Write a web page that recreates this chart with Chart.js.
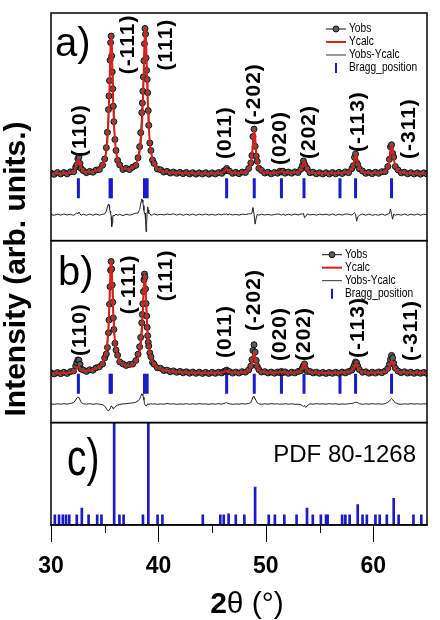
<!DOCTYPE html>
<html>
<head>
<meta charset="utf-8">
<script src="https://cdn.jsdelivr.net/npm/chart.js@4.4.0/dist/chart.umd.min.js"></script>
<style>
  html, body { margin: 0; padding: 0; background: #fff; }
  #wrap { width: 440px; height: 620px; }
</style>
</head>
<body>
<div id="wrap"><canvas id="xrd" width="440" height="620"></canvas></div>
<script>
//2theta grid shared by the refinements (a) and (b)
const twoTheta = [
  30.0, 30.3, 30.6, 30.9, 31.2, 31.5, 31.8, 32.1, 32.3, 32.4,
  32.5, 32.6, 32.7, 32.8, 33.0, 33.3, 33.6, 33.9, 34.2, 34.5,
  34.8, 35.0, 35.15, 35.25, 35.35, 35.4, 35.45, 35.5, 35.55, 35.6,
  35.65, 35.7, 35.75, 35.8, 35.85, 35.95, 36.05, 36.2, 36.4, 36.7,
  37.0, 37.3, 37.6, 37.9, 38.1, 38.25, 38.35, 38.45, 38.5, 38.55,
  38.6, 38.65, 38.7, 38.75, 38.8, 38.85, 38.9, 38.95, 39.0, 39.05,
  39.1, 39.2, 39.3, 39.45, 39.6, 39.9, 40.2, 40.5, 40.8, 41.1,
  41.4, 41.7, 42.0, 42.3, 42.6, 42.9, 43.2, 43.5, 43.8, 44.1,
  44.4, 44.7, 45.0, 45.3, 45.6, 45.9, 46.1, 46.25, 46.35, 46.45,
  46.6, 46.9, 47.2, 47.5, 47.8, 48.1, 48.4, 48.6, 48.7, 48.8,
  48.9, 49.0, 49.1, 49.2, 49.35, 49.6, 49.9, 50.2, 50.5, 50.8,
  51.1, 51.3, 51.45, 51.6, 51.8, 52.1, 52.4, 52.7, 53.0, 53.25,
  53.4, 53.5, 53.6, 53.7, 53.85, 54.1, 54.4, 54.7, 55.0, 55.3,
  55.6, 55.9, 56.2, 56.5, 56.8, 57.1, 57.4, 57.7, 58.0, 58.15,
  58.25, 58.35, 58.45, 58.55, 58.7, 59.0, 59.3, 59.6, 59.9, 60.2,
  60.5, 60.8, 61.1, 61.35, 61.5, 61.6, 61.7, 61.8, 61.9, 62.05,
  62.3, 62.6, 62.9, 63.2, 63.5, 63.8, 64.1, 64.4, 64.7, 65.0
];
//panel a) observed / calculated / difference (difference already shifted down)
const obsA = [
  10.6, 9.8, 10.9, 10.0, 10.9, 10.1, 11.3, 11.4, 14.2, 15.6,
  19.3, 20.4, 16.5, 13.4, 12.1, 10.8, 11.6, 11.1, 12.4, 12.7,
  15.4, 19.2, 26.2, 35.6, 49.6, 58.0, 67.4, 80.0, 90.8, 94.8,
  82.6, 72.8, 62.4, 51.7, 42.2, 31.2, 24.5, 18.4, 15.6, 12.8,
  13.5, 12.7, 14.2, 15.3, 20.0, 26.8, 35.4, 47.7, 53.7, 60.9,
  69.7, 79.6, 90.1, 99.5, 96.0, 81.4, 73.7, 68.2, 60.0, 49.0,
  39.9, 29.1, 24.4, 18.6, 16.5, 13.1, 12.6, 11.2, 11.6, 10.6,
  11.2, 10.4, 11.0, 10.2, 10.9, 10.0, 10.8, 9.9, 10.7, 10.0,
  10.8, 9.9, 10.7, 10.0, 10.9, 10.4, 11.9, 12.0, 13.4, 12.1,
  11.8, 10.4, 11.0, 10.2, 11.2, 10.9, 13.4, 16.8, 21.4, 33.0,
  37.6, 27.0, 21.0, 17.8, 13.5, 12.2, 10.6, 11.1, 10.1, 10.9,
  10.5, 11.7, 11.2, 11.7, 10.5, 11.2, 10.5, 11.3, 10.9, 12.9,
  15.2, 18.0, 16.0, 14.4, 13.3, 10.8, 11.1, 10.1, 10.8, 10.0,
  10.8, 10.0, 10.9, 10.1, 11.0, 10.3, 11.3, 10.8, 13.3, 15.1,
  20.2, 22.3, 17.0, 15.8, 13.3, 11.8, 10.4, 11.0, 10.2, 11.1,
  10.4, 11.4, 11.5, 14.6, 19.0, 26.7, 28.0, 22.7, 20.4, 14.6,
  12.5, 10.7, 11.1, 10.1, 10.8, 10.0, 10.7, 9.9, 10.7, 10.0
];
const calcA = [
  10.2, 10.2, 10.3, 10.3, 10.4, 10.5, 10.8, 11.6, 13.7, 16.0,
  18.8, 18.8, 16.0, 13.8, 11.8, 11.2, 11.2, 11.5, 12.0, 13.0,
  15.2, 18.7, 24.0, 31.0, 43.0, 52.0, 64.0, 78.0, 90.0, 96.0,
  90.0, 78.0, 64.0, 52.0, 43.0, 31.0, 24.2, 18.8, 15.4, 13.4,
  13.0, 13.1, 13.8, 15.7, 19.0, 23.6, 29.0, 38.0, 44.7, 53.3,
  64.2, 76.9, 89.7, 98.6, 99.5, 91.9, 79.5, 66.6, 55.2, 46.1,
  39.1, 29.6, 23.9, 19.0, 16.1, 13.4, 12.2, 11.6, 11.2, 10.9,
  10.8, 10.7, 10.6, 10.5, 10.5, 10.4, 10.4, 10.3, 10.3, 10.3,
  10.3, 10.3, 10.3, 10.4, 10.5, 10.8, 11.5, 12.4, 13.0, 12.5,
  11.4, 10.8, 10.6, 10.6, 10.8, 11.3, 12.9, 16.3, 20.5, 28.6,
  37.4, 32.8, 23.2, 17.6, 13.9, 11.8, 11.0, 10.7, 10.5, 10.6,
  10.9, 11.3, 11.6, 11.3, 10.9, 10.8, 10.9, 10.9, 11.3, 12.5,
  14.8, 17.2, 17.9, 15.7, 12.9, 11.2, 10.7, 10.5, 10.4, 10.4,
  10.4, 10.4, 10.5, 10.5, 10.6, 10.7, 10.9, 11.2, 12.9, 15.5,
  18.9, 22.0, 21.0, 17.3, 13.7, 11.4, 10.8, 10.6, 10.6, 10.7,
  10.8, 11.0, 11.9, 14.2, 18.3, 23.3, 27.8, 25.5, 20.0, 15.0,
  12.1, 11.1, 10.7, 10.5, 10.4, 10.4, 10.3, 10.3, 10.3, 10.3
];
const diffA = [
  -15.0, -15.4, -14.7, -15.3, -14.6, -15.2, -14.8, -15.4, -14.5, -13.8,
  -14.5, -13.4, -14.5, -15.4, -14.7, -15.4, -14.6, -15.4, -14.6, -15.3,
  -14.8, -14.5, -12.8, -10.4, -8.4, -9.0, -11.6, -13.0, -14.2, -16.2,
  -22.4, -20.2, -16.6, -15.3, -15.8, -15.2, -14.7, -15.4, -14.8, -15.6,
  -14.7, -15.3, -14.8, -14.1, -14.0, -11.8, -8.6, -5.3, -6.0, -7.4,
  -9.5, -12.3, -14.6, -14.1, -18.5, -25.5, -20.8, -13.4, -10.2, -12.1,
  -14.2, -14.4, -15.4, -15.1, -14.5, -15.2, -14.8, -15.2, -14.6, -15.0,
  -14.5, -15.3, -14.6, -15.4, -14.7, -15.3, -14.6, -15.4, -14.7, -15.2,
  -14.6, -15.3, -14.7, -15.4, -14.6, -15.2, -14.5, -15.0, -14.3, -15.3,
  -14.6, -15.2, -14.8, -15.3, -14.7, -14.9, -14.5, -14.5, -14.1, -10.6,
  -14.8, -20.8, -17.2, -14.8, -15.3, -14.7, -15.2, -14.8, -15.3, -14.9,
  -14.6, -14.8, -15.3, -14.6, -15.4, -14.7, -15.3, -14.6, -15.2, -14.6,
  -14.6, -14.2, -16.9, -16.3, -14.6, -15.2, -14.8, -15.3, -14.7, -15.1,
  -14.7, -15.3, -14.6, -15.4, -14.7, -15.3, -14.6, -14.7, -15.2, -14.4,
  -13.7, -14.7, -19.0, -16.5, -15.4, -14.6, -15.4, -14.6, -15.4, -14.9,
  -15.4, -14.6, -15.4, -14.6, -14.3, -11.6, -14.8, -17.8, -14.6, -15.4,
  -14.7, -15.3, -14.6, -15.4, -14.7, -15.3, -14.6, -15.4, -14.7, -15.0
];
//panel b)
const obsB = [
  10.9, 10.0, 11.1, 10.2, 11.3, 10.4, 11.8, 12.4, 16.3, 18.7,
  21.0, 20.8, 17.6, 13.9, 13.1, 12.0, 13.3, 12.9, 14.8, 15.6,
  17.8, 22.6, 25.7, 30.8, 42.4, 52.4, 64.9, 78.7, 91.5, 98.5,
  92.6, 80.0, 66.4, 54.1, 45.0, 34.1, 28.8, 24.7, 19.5, 17.9,
  16.7, 17.4, 17.8, 20.6, 25.5, 31.4, 38.7, 50.2, 56.8, 65.2,
  74.8, 84.0, 88.6, 86.3, 76.9, 65.5, 55.6, 46.7, 40.1, 34.9,
  31.9, 26.5, 23.5, 19.0, 17.6, 14.8, 14.5, 12.7, 13.0, 11.8,
  12.4, 11.3, 12.0, 10.9, 11.7, 10.6, 11.5, 10.5, 11.4, 10.4,
  11.3, 10.4, 11.3, 10.5, 11.4, 10.8, 12.0, 12.4, 13.0, 11.9,
  11.9, 10.7, 11.5, 10.7, 11.8, 11.4, 13.1, 16.2, 21.2, 28.5,
  33.0, 27.2, 20.6, 16.0, 13.4, 11.5, 11.8, 10.8, 11.5, 10.6,
  11.5, 11.0, 12.0, 11.1, 11.6, 10.5, 11.4, 10.8, 11.9, 12.6,
  14.6, 16.4, 17.9, 14.0, 12.0, 11.9, 10.8, 11.4, 10.5, 11.2,
  10.4, 11.2, 10.5, 11.3, 10.6, 11.5, 10.8, 11.9, 13.0, 15.0,
  17.2, 19.4, 18.8, 16.2, 13.5, 11.3, 11.7, 10.6, 11.4, 10.7,
  11.6, 11.0, 12.3, 14.4, 17.6, 21.4, 24.6, 22.6, 18.4, 14.6,
  12.3, 11.0, 11.7, 10.7, 11.4, 10.5, 11.3, 10.5, 11.2, 10.4
];
const calcB = [
  10.4, 10.4, 10.5, 10.6, 10.7, 10.8, 11.2, 11.6, 12.9, 14.1,
  15.6, 15.6, 14.1, 12.9, 12.6, 12.4, 12.7, 13.3, 14.3, 15.9,
  18.3, 24.2, 29.2, 35.7, 47.6, 57.1, 69.1, 82.1, 94.1, 100.0,
  94.4, 82.5, 69.6, 57.8, 48.4, 36.6, 30.4, 25.6, 19.8, 17.6,
  16.6, 16.5, 17.2, 19.0, 23.0, 27.5, 32.6, 42.1, 49.0, 58.5,
  69.5, 80.5, 88.3, 87.0, 78.0, 67.0, 56.5, 47.0, 40.0, 35.0,
  31.6, 26.9, 23.0, 19.4, 17.1, 15.2, 14.0, 13.1, 12.5, 12.2,
  11.9, 11.7, 11.5, 11.3, 11.2, 11.1, 11.0, 10.9, 10.9, 10.8,
  10.8, 10.8, 10.8, 10.8, 10.9, 11.1, 11.6, 12.2, 12.4, 12.1,
  11.5, 11.1, 11.0, 11.1, 11.3, 11.6, 12.6, 15.0, 18.0, 23.0,
  26.8, 23.0, 18.0, 15.0, 13.0, 11.8, 11.3, 11.1, 11.0, 10.9,
  11.1, 11.4, 11.6, 11.4, 11.1, 10.9, 11.0, 11.1, 11.6, 12.8,
  14.9, 17.1, 17.8, 15.8, 13.2, 11.7, 11.2, 11.0, 10.9, 10.8,
  10.8, 10.8, 10.9, 10.9, 11.0, 11.1, 11.2, 11.5, 12.7, 14.5,
  16.0, 18.0, 17.4, 15.1, 13.2, 11.6, 11.2, 11.0, 11.0, 11.1,
  11.2, 11.4, 11.8, 13.0, 15.2, 17.9, 20.3, 19.1, 16.1, 13.5,
  11.9, 11.4, 11.3, 11.1, 11.0, 10.9, 10.9, 10.9, 10.8, 10.8
];
const diffB = [
  -13.6, -13.9, -13.5, -13.8, -13.4, -13.7, -13.3, -12.6, -10.6, -8.9,
  -8.2, -8.4, -10.4, -12.4, -13.5, -13.8, -13.4, -13.9, -13.5, -13.8,
  -14.2, -15.3, -17.2, -18.6, -18.9, -18.4, -17.9, -17.1, -16.3, -15.2,
  -15.5, -16.2, -16.9, -17.4, -17.1, -16.2, -15.3, -14.6, -14.0, -13.6,
  -13.4, -13.1, -12.8, -12.3, -11.2, -9.8, -7.6, -5.6, -5.9, -7.0,
  -8.4, -10.2, -13.4, -14.4, -14.8, -15.2, -14.6, -14.0, -13.6, -13.8,
  -13.5, -13.9, -13.4, -13.8, -13.5, -13.9, -13.6, -13.8, -13.3, -13.7,
  -13.5, -13.9, -13.6, -13.8, -13.4, -13.9, -13.5, -13.8, -13.4, -13.7,
  -13.6, -13.9, -13.5, -13.8, -13.4, -13.8, -13.2, -12.8, -12.5, -13.1,
  -13.5, -13.9, -13.6, -13.8, -13.4, -13.7, -13.2, -12.5, -10.5, -8.2,
  -7.5, -9.5, -11.1, -12.7, -13.6, -13.9, -13.5, -13.8, -13.4, -13.7,
  -13.5, -13.9, -13.6, -13.8, -13.4, -13.8, -13.5, -13.9, -13.8, -14.2,
  -14.9, -15.6, -14.8, -16.3, -15.1, -13.5, -13.8, -13.4, -13.7, -13.5,
  -13.8, -13.4, -13.7, -13.5, -13.9, -13.6, -13.8, -13.5, -13.2, -12.9,
  -12.5, -12.3, -12.4, -12.6, -13.4, -13.9, -13.5, -13.8, -13.4, -13.7,
  -13.5, -13.8, -13.4, -12.3, -11.3, -10.2, -9.4, -10.2, -11.4, -12.6,
  -13.6, -13.9, -13.5, -13.8, -13.4, -13.7, -13.5, -13.8, -13.5, -13.7
];
//Bragg reflections (same phase in a and b)
const braggPos = [32.55, 35.5, 35.62, 38.7, 38.95, 46.35, 48.92, 51.45, 53.55, 56.9, 58.35, 61.7];
//PDF 80-1268 stick pattern
const pdfPos = [
  30.36, 30.75, 31.1, 31.4, 31.7, 32.4, 32.87, 33.5, 34.3, 34.7,
  35.88, 36.37, 36.76, 38.56, 39.06, 39.92, 40.37, 44.13, 45.76, 46.08,
  46.53, 47.2, 48.0, 49.0, 50.27, 50.84, 51.72, 52.86, 53.83, 54.37,
  55.12, 55.6, 55.75, 57.1, 57.4, 57.8, 58.55, 59.0, 59.4, 60.2,
  60.6, 61.26, 61.9, 62.36, 63.74, 64.47
];
const pdfInt = [
  10, 10, 10, 10, 10, 10, 16.5, 10, 10, 10,
  100, 10, 10, 10, 100, 10, 10, 10, 10, 10,
  11, 10, 10, 37, 10, 10, 10, 10, 16.5, 10,
  10, 10, 10, 10, 10, 10, 20, 10, 10, 10,
  10, 10, 26, 10, 10, 10
];
//x axis ticks
const majorTicks = [30, 40, 50, 60];
const minorTicks = [35, 45, 55];
//reflection labels: 2theta of the label and the intensity where the text starts
const hklText = ["(110)", "(-111)", "(111)", "(011)", "(-202)", "(020)", "(202)", "(-113)", "(-311)"];
const hklPosA = [32.69, 37.14, 40.76, 46.18, 48.9, 51.34, 54.05, 58.57, 63.36];
const hklBaseA = [20.4, 71.3, 73.7, 19.2, 40.0, 15.5, 19.2, 23.5, 19.2];
const hklPosB = [32.71, 37.32, 40.76, 46.18, 48.9, 51.34, 53.6, 58.57, 63.54];
const hklBaseB = [24.1, 57.0, 67.2, 22.6, 43.7, 20.2, 20.2, 22.6, 20.2];

const FONT = '"Liberation Sans", Arial, sans-serif';
const RED = "#d8201c";
const BLUE = "#1a1ac8";

const toPts = (xs, ys) => xs.map((x, i) => ({ x: x, y: ys[i] }));
const level = (xs, y) => xs.map((x) => ({ x: x, y: y }));

//datasets for one refinement panel
function panelSets(axis, obs, calc, diff, tickLevel) {
  return [
    {
      label: "Ycalc", data: toPts(twoTheta, calc), yAxisID: axis,
      borderColor: RED, borderWidth: 2, pointRadius: 0,
      cubicInterpolationMode: "monotone", order: 1,
    },
    {
      label: "Yobs", data: toPts(twoTheta, obs), yAxisID: axis,
      borderColor: "#111", borderWidth: 1, pointRadius: 3,
      pointBackgroundColor: "#5c5c5c", pointBorderColor: "#111", pointBorderWidth: 1, order: 2,
    },
    {
      label: "Yobs-Ycalc", data: toPts(twoTheta, diff), yAxisID: axis,
      borderColor: "#222", borderWidth: 1, pointRadius: 0, order: 3,
    },
    {
      label: "Bragg_position", data: level(braggPos, tickLevel), yAxisID: axis,
      showLine: false, pointStyle: "line", pointRadius: 10, pointRotation: 90,
      pointBorderWidth: 3, pointBorderColor: BLUE, order: 4,
    },
  ];
}

function drawHkl(ctx, xs, ys, pos, base) {
  ctx.save();
  ctx.font = "bold 21px " + FONT;
  ctx.letterSpacing = "1px";
  ctx.fillStyle = "#000";
  ctx.textAlign = "left";
  ctx.textBaseline = "middle";
  hklText.forEach((t, i) => {
    ctx.save();
    ctx.translate(xs.getPixelForValue(pos[i]), ys.getPixelForValue(base[i]));
    ctx.rotate(-Math.PI / 2);
    ctx.fillText(t, 0, 0);
    ctx.restore();
  });
  ctx.restore();
}

function drawLegend(ctx, lx, ty) {
  const names = ["Yobs", "Ycalc", "Yobs-Ycalc", "Bragg_position"];
  ctx.save();
  ctx.textBaseline = "middle";
  ctx.fillStyle = "#000";
  names.forEach((t, i) => {
    ctx.save();
    ctx.translate(lx + 23, ty + i * 13);
    ctx.scale(0.85, 1);
    ctx.font = "12px " + FONT;
    ctx.fillText(t, 0, 0);
    ctx.restore();
  });
  ctx.lineWidth = 1;
  ctx.strokeStyle = "#111";
  ctx.beginPath(); ctx.moveTo(lx, ty); ctx.lineTo(lx + 20, ty); ctx.stroke();
  ctx.beginPath(); ctx.arc(lx + 10, ty, 3, 0, Math.PI * 2);
  ctx.fillStyle = "#5c5c5c"; ctx.fill(); ctx.stroke();
  ctx.lineWidth = 2; ctx.strokeStyle = RED;
  ctx.beginPath(); ctx.moveTo(lx, ty + 13); ctx.lineTo(lx + 20, ty + 13); ctx.stroke();
  ctx.lineWidth = 1; ctx.strokeStyle = "#333";
  ctx.beginPath(); ctx.moveTo(lx, ty + 26); ctx.lineTo(lx + 20, ty + 26); ctx.stroke();
  ctx.lineWidth = 2; ctx.strokeStyle = BLUE;
  ctx.beginPath(); ctx.moveTo(lx + 10, ty + 34); ctx.lineTo(lx + 10, ty + 44); ctx.stroke();
  ctx.restore();
}

//frames, ticks, labels, legends and titles
const decor = {
  id: "decor",
  afterDatasetsDraw(chart) {
    const ctx = chart.ctx;
    const { x, ya, yb, yc } = chart.scales;
    ctx.save();
    ctx.strokeStyle = "#000";
    ctx.lineWidth = 1.5;
    [ya, yb, yc].forEach((s) => ctx.strokeRect(x.left, s.top, x.right - x.left, s.bottom - s.top));
    //bottom axis ticks
    ctx.lineWidth = 1;
    const tick = (v, len) => {
      const px = Math.round(x.getPixelForValue(v)) + 0.5;
      ctx.beginPath(); ctx.moveTo(px, yc.bottom); ctx.lineTo(px, yc.bottom + len); ctx.stroke();
    };
    majorTicks.forEach((v) => tick(v, 17));
    minorTicks.forEach((v) => tick(v, 8));

    drawHkl(ctx, x, ya, hklPosA, hklBaseA);
    drawHkl(ctx, x, yb, hklPosB, hklBaseB);
    drawLegend(ctx, x.right - 101, ya.top + 16);
    drawLegend(ctx, x.right - 105, yb.top + 14);

    ctx.fillStyle = "#000";
    ctx.textBaseline = "alphabetic";
    ctx.textAlign = "left";
    ctx.font = "40px " + FONT;
    ctx.fillText("a)", x.left + 4, ya.top + 43);
    ctx.fillText("b)", x.left + 7, yb.top + 44);
    ctx.save();
    ctx.translate(x.left + 16, yc.top + 52);
    ctx.scale(0.75, 1);
    ctx.font = "52px " + FONT;
    ctx.fillText("c)", 0, 0);
    ctx.restore();

    ctx.font = "24px " + FONT;
    ctx.textAlign = "right";
    ctx.fillText("PDF 80-1268", x.right - 11, yc.top + 39);

    //y title
    ctx.save();
    ctx.translate(17, (ya.top + yc.bottom) / 2);
    ctx.rotate(-Math.PI / 2);
    ctx.textAlign = "center";
    ctx.textBaseline = "middle";
    ctx.font = "bold 30px " + FONT;
    ctx.fillText("Intensity (arb. units.)", 0, 0);
    ctx.restore();

    //x title: bold 2, regular theta
    const cx = (x.left + x.right) / 2 + 8;
    ctx.textAlign = "left";
    ctx.textBaseline = "middle";
    ctx.font = "bold 30px " + FONT;
    const w2 = ctx.measureText("2").width;
    ctx.font = "30px " + FONT;
    const wr = ctx.measureText("θ (°)").width;
    const sx = cx - (w2 + wr) / 2;
    ctx.font = "bold 30px " + FONT;
    ctx.fillText("2", sx, 605);
    ctx.font = "30px " + FONT;
    ctx.fillText("θ (°)", sx + w2, 605);
    ctx.restore();
  },
};

const chart = new Chart(document.getElementById("xrd"), {
  type: "line",
  data: {
    datasets: [
      ...panelSets("ya", obsA, calcA, diffA, 1.2),
      ...panelSets("yb", obsB, calcB, diffB, 2.2),
      {
        type: "bar", label: "PDF 80-1268", data: toPts(pdfPos, pdfInt), yAxisID: "yc",
        backgroundColor: BLUE, barThickness: 2, order: 5,
      },
    ],
  },
  options: {
    responsive: false,
    animation: false,
    events: [],
    layout: { padding: { left: 51, right: 2, top: 10, bottom: 0 } },
    plugins: { legend: { display: false }, tooltip: { enabled: false } },
    scales: {
      x: {
        type: "linear", position: "bottom", min: 30, max: 65, offset: false,
        afterFit: (scale) => { scale.height = 95; },
        afterBuildTicks: (scale) => { scale.ticks = majorTicks.map((v) => ({ value: v })); },
        border: { display: true, color: "#000", width: 1.5 },
        grid: { display: false },
        ticks: {
          autoSkip: false, maxRotation: 0, padding: 20, color: "#000",
          font: { family: FONT, size: 23, weight: "bold" },
        },
      },
      ya: { type: "linear", position: "left", stack: "panels", stackWeight: 229, weight: 3, min: -31, max: 109, display: false },
      yb: { type: "linear", position: "left", stack: "panels", stackWeight: 183, weight: 2, min: -28.3, max: 114.9, display: false },
      yc: { type: "linear", position: "left", stack: "panels", stackWeight: 103, weight: 1, min: 0, max: 100, display: false },
    },
  },
  plugins: [decor],
});
</script>
</body>
</html>
